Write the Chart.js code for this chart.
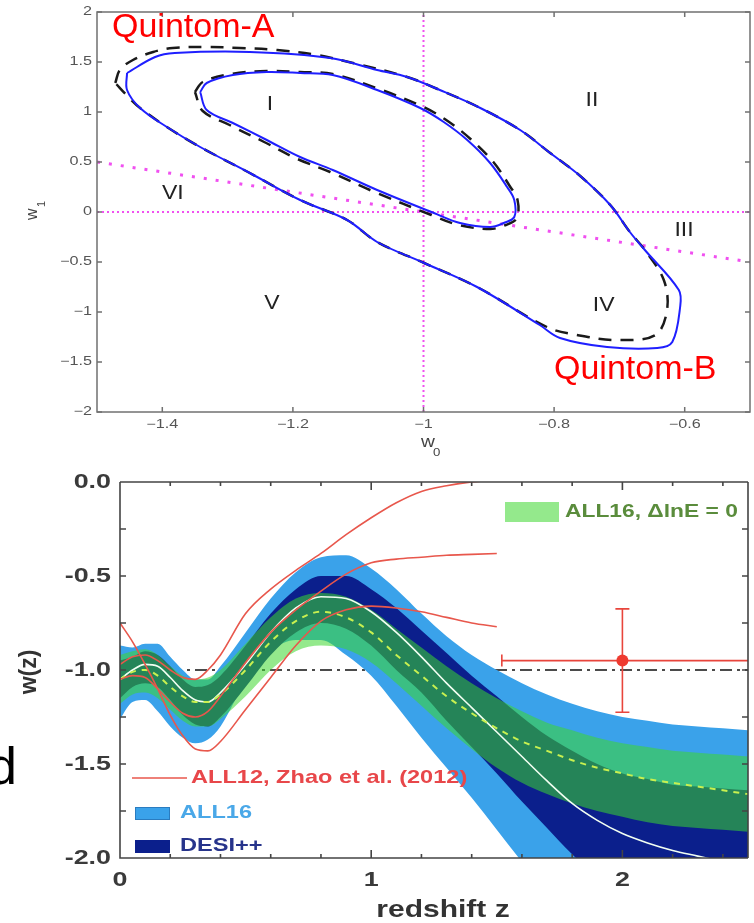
<!DOCTYPE html>
<html>
<head>
<meta charset="utf-8">
<script src="https://cdn.jsdelivr.net/npm/chart.js@4.4.1/dist/chart.umd.min.js"></script>
<style>
  body { margin: 0; background: #fff; }
  #wrap { position: relative; width: 754px; height: 923px; overflow: hidden; }
  canvas { position: absolute; left: 0; }
  #plane { top: 0; }
  #wz { top: 470px; }
</style>
</head>
<body>
<div id="wrap">
  <canvas id="plane" width="754" height="470"></canvas>
  <canvas id="wz" width="754" height="453"></canvas>
</div>
<script>
// ---------- w0 - w1 plane ----------
const w0Ticks = [-1.4, -1.2, -1, -0.8, -0.6];
const w1Ticks = [-2, -1.5, -1, -0.5, 0, 0.5, 1, 1.5, 2];

// 95% and 68% contours (solid) and the comparison contours (dashed)
const outerW0 = [-1.454, -1.411, -1.381, -1.266, -1.143, -1.071, -1.025, -0.975, -0.913, -0.852, -0.806, -0.760, -0.714, -0.684, -0.661, -0.609, -0.607, -0.619, -0.642, -0.719, -0.791, -0.822, -0.918, -0.999, -1.071, -1.117, -1.189, -1.266, -1.342, -1.393, -1.434, -1.454, -1.454];
const outerW1 = [1.39, 1.55, 1.59, 1.60, 1.54, 1.42, 1.35, 1.22, 1.04, 0.82, 0.59, 0.36, 0.07, -0.20, -0.38, -0.78, -0.95, -1.30, -1.36, -1.35, -1.26, -1.13, -0.75, -0.51, -0.30, -0.08, 0.12, 0.39, 0.65, 0.85, 1.04, 1.22, 1.39];
const innerW0 = [-1.342, -1.332, -1.292, -1.240, -1.189, -1.139, -1.071, -1.005, -0.969, -0.933, -0.898, -0.872, -0.861, -0.861, -0.877, -0.898, -0.944, -0.984, -1.071, -1.139, -1.189, -1.240, -1.292, -1.332, -1.342];
const innerW1 = [1.20, 1.29, 1.37, 1.40, 1.39, 1.37, 1.22, 1.04, 0.90, 0.72, 0.49, 0.25, 0.12, -0.05, -0.11, -0.15, -0.11, -0.01, 0.22, 0.42, 0.55, 0.72, 0.89, 1.02, 1.20];
const outerDashW0 = [-1.472, -1.465, -1.445, -1.414, -1.384, -1.332, -1.281, -1.224, -1.163, -1.108, -1.025, -0.975, -0.913, -0.852, -0.806, -0.760, -0.714, -0.684, -0.661, -0.632, -0.627, -0.645, -0.704, -0.765, -0.811, -0.918, -0.999, -1.071, -1.117, -1.189, -1.266, -1.342, -1.393, -1.434, -1.452, -1.472];
const outerDashW1 = [1.29, 1.42, 1.52, 1.60, 1.64, 1.65, 1.64, 1.62, 1.57, 1.49, 1.35, 1.22, 1.04, 0.82, 0.59, 0.36, 0.07, -0.20, -0.38, -0.68, -0.98, -1.23, -1.28, -1.23, -1.15, -0.75, -0.51, -0.30, -0.08, 0.12, 0.39, 0.65, 0.85, 1.04, 1.15, 1.29];
const innerDashW0 = [-1.350, -1.338, -1.295, -1.240, -1.189, -1.139, -1.068, -1.000, -0.963, -0.928, -0.893, -0.868, -0.856, -0.857, -0.874, -0.898, -0.946, -0.988, -1.075, -1.143, -1.193, -1.244, -1.297, -1.338, -1.350];
const innerDashW1 = [1.20, 1.30, 1.38, 1.41, 1.40, 1.38, 1.23, 1.05, 0.91, 0.73, 0.50, 0.26, 0.12, -0.06, -0.13, -0.17, -0.13, -0.03, 0.20, 0.40, 0.53, 0.70, 0.87, 1.01, 1.20];

// dividing lines: w0 = -1, w1 = 0 and w0 + w1 = -1
const divideW0 = [-1.5, -0.5];
const divideW1 = [0.5, -0.5];

// ---------- w(z) reconstruction ----------
const zGrid = [0, 0.05, 0.1, 0.15, 0.2, 0.25, 0.3, 0.35, 0.4, 0.5, 0.6, 0.7, 0.8, 0.9, 1.0, 1.1, 1.2, 1.3, 1.4, 1.5, 1.6, 1.7, 1.8, 1.9, 2.0, 2.1, 2.2, 2.3, 2.4, 2.5];
const all16Upper = [-0.87, -0.88, -0.86, -0.86, -0.93, -1.00, -1.05, -1.05, -0.98, -0.80, -0.62, -0.48, -0.40, -0.39, -0.46, -0.57, -0.70, -0.82, -0.92, -1.00, -1.07, -1.13, -1.18, -1.22, -1.25, -1.27, -1.29, -1.30, -1.31, -1.32];
const all16Lower = [-1.26, -1.17, -1.16, -1.22, -1.30, -1.36, -1.39, -1.37, -1.30, -1.06, -0.90, -0.84, -0.84, -0.92, -1.03, -1.19, -1.36, -1.52, -1.68, -1.85, -2.02, -2.18, -2.32, -2.45, -2.55, -2.62, -2.68, -2.72, -2.75, -2.78];
const desiUpper = [-0.95, -0.93, -0.90, -0.92, -0.98, -1.05, -1.09, -1.08, -1.03, -0.87, -0.70, -0.57, -0.50, -0.50, -0.57, -0.67, -0.79, -0.91, -1.03, -1.14, -1.25, -1.35, -1.43, -1.50, -1.55, -1.58, -1.61, -1.62, -1.63, -1.64];
const desiMean = [-1.05, -1.00, -0.97, -0.98, -1.04, -1.11, -1.16, -1.17, -1.12, -0.97, -0.80, -0.67, -0.61, -0.62, -0.69, -0.80, -0.93, -1.07, -1.20, -1.33, -1.46, -1.59, -1.71, -1.80, -1.87, -1.92, -1.96, -1.99, -2.02, -2.05];
const desiLower = [-1.15, -1.09, -1.07, -1.09, -1.16, -1.24, -1.29, -1.30, -1.25, -1.09, -0.92, -0.80, -0.75, -0.78, -0.87, -1.00, -1.12, -1.27, -1.41, -1.55, -1.70, -1.84, -1.98, -2.10, -2.20, -2.28, -2.34, -2.39, -2.43, -2.46];
const flatUpper = [-0.92, -0.90, -0.89, -0.92, -0.98, -1.03, -1.05, -1.04, -1.00, -0.86, -0.72, -0.62, -0.59, -0.61, -0.68, -0.78, -0.88, -0.98, -1.07, -1.15, -1.22, -1.28, -1.32, -1.36, -1.39, -1.41, -1.43, -1.44, -1.45, -1.46];
const flatMean = [-1.05, -1.01, -1.00, -1.03, -1.09, -1.14, -1.17, -1.17, -1.13, -1.00, -0.85, -0.74, -0.69, -0.72, -0.80, -0.92, -1.03, -1.14, -1.23, -1.31, -1.38, -1.43, -1.48, -1.52, -1.55, -1.58, -1.60, -1.62, -1.64, -1.66];
const flatLower = [-1.18, -1.13, -1.12, -1.15, -1.21, -1.27, -1.30, -1.30, -1.26, -1.14, -1.00, -0.90, -0.87, -0.89, -0.96, -1.07, -1.19, -1.31, -1.42, -1.52, -1.60, -1.66, -1.71, -1.75, -1.78, -1.81, -1.83, -1.84, -1.85, -1.86];

// ALL12 (Zhao et al. 2012), plotted up to z = 1.5
const zhaoZ = zGrid.slice(0, 20);
const zhaoA = [-0.97, -0.93, -0.92, -0.95, -1.00, -1.04, -1.05, -1.00, -0.92, -0.70, -0.57, -0.47, -0.38, -0.28, -0.19, -0.11, -0.05, -0.02, 0.00, 0.01];
const zhaoB = [-1.05, -1.03, -1.04, -1.10, -1.17, -1.23, -1.25, -1.22, -1.14, -0.96, -0.80, -0.68, -0.58, -0.49, -0.43, -0.41, -0.40, -0.39, -0.385, -0.38];
const zhaoC = [-0.75, -0.85, -0.97, -1.10, -1.24, -1.35, -1.42, -1.43, -1.38, -1.21, -1.04, -0.87, -0.74, -0.68, -0.66, -0.67, -0.69, -0.72, -0.75, -0.77];

// high-z bin with error bars
const binZ = [2.0], binW = [-0.95];
const binZErr = [1.52, 2.6];
const binWErr = [-1.225, -0.675];

const lcdmW = -1;
const zTicks = [0, 1, 2];
const wTicks = [0, -0.5, -1, -1.5, -2];

const FONT = '"Liberation Sans", Arial, sans-serif';
const pts = (xs, ys) => xs.map((x, i) => ({ x: x, y: ys[i] }));

// text with horizontal stretch
function stext(ctx, s, x, y, font, color, align, sx) {
  ctx.save();
  ctx.font = font;
  ctx.fillStyle = color;
  ctx.textAlign = align || 'left';
  ctx.textBaseline = 'middle';
  ctx.translate(x, y);
  ctx.scale(sx || 1, 1);
  ctx.fillText(s, 0, 0);
  ctx.restore();
}
const minus = v => (v < 0 ? '\u2212' + Math.abs(v) : String(v));

// ---------- top panel decorations ----------
const planeDeco = {
  id: 'planeDeco',
  afterDraw(chart) {
    const { ctx, chartArea: a, scales: { x, y } } = chart;
    ctx.save();
    ctx.strokeStyle = '#707070';
    ctx.lineWidth = 1.5;
    ctx.strokeRect(a.left, a.top, a.right - a.left, a.bottom - a.top);
    ctx.beginPath();
    w0Ticks.forEach(v => {
      const px = x.getPixelForValue(v);
      ctx.moveTo(px, a.bottom); ctx.lineTo(px, a.bottom - 5);
      ctx.moveTo(px, a.top); ctx.lineTo(px, a.top + 5);
    });
    w1Ticks.forEach(v => {
      const py = y.getPixelForValue(v);
      ctx.moveTo(a.left, py); ctx.lineTo(a.left + 5, py);
      ctx.moveTo(a.right, py); ctx.lineTo(a.right - 5, py);
    });
    ctx.stroke();
    ctx.restore();

    const tf = '12px ' + FONT;
    w0Ticks.forEach(v => stext(ctx, minus(v), x.getPixelForValue(v), a.bottom + 13, tf, '#555', 'center', 1.35));
    w1Ticks.forEach(v => stext(ctx, minus(v), a.left - 5, y.getPixelForValue(v), tf, '#555', 'right', 1.35));

    // axis names
    stext(ctx, 'w', 421, a.bottom + 31, '16px ' + FONT, '#444', 'left', 1.2);
    stext(ctx, '0', 433, a.bottom + 41, '11px ' + FONT, '#444', 'left', 1.2);
    ctx.save();
    ctx.translate(33, 214);
    ctx.rotate(-Math.PI / 2);
    stext(ctx, 'w', -6, 0, '16px ' + FONT, '#444', 'left', 1);
    stext(ctx, '1', 7, 9, '11px ' + FONT, '#444', 'left', 1);
    ctx.restore();

    // region numerals
    const rf = '20px ' + FONT;
    [['I', -1.235, 1.08], ['II', -0.742, 1.12], ['III', -0.601, -0.18],
     ['IV', -0.724, -0.93], ['V', -1.232, -0.91], ['VI', -1.384, 0.19]].forEach(r =>
      stext(ctx, r[0], x.getPixelForValue(r[1]), y.getPixelForValue(r[2]), rf, '#222', 'center', 1.15));

    stext(ctx, 'Quintom-A', 112, 28, '33px ' + FONT, '#ff0000', 'left', 1.03);
    stext(ctx, 'Quintom-B', 554, 370, '33px ' + FONT, '#ff0000', 'left', 1.03);
  }
};

const magenta = '#f050f0';
new Chart(document.getElementById('plane'), {
  type: 'scatter',
  data: {
    datasets: [
      { data: pts(outerW0, outerW1), showLine: true, borderColor: '#1f1fff', borderWidth: 2, pointRadius: 0, tension: 0.35, order: 1 },
      { data: pts(innerW0, innerW1), showLine: true, borderColor: '#1f1fff', borderWidth: 2, pointRadius: 0, tension: 0.35, order: 1 },
      { data: pts(outerDashW0, outerDashW1), showLine: true, borderColor: '#1a1a1a', borderWidth: 2.5, borderDash: [13, 9], pointRadius: 0, tension: 0.35, order: 2 },
      { data: pts(innerDashW0, innerDashW1), showLine: true, borderColor: '#1a1a1a', borderWidth: 2.5, borderDash: [13, 9], pointRadius: 0, tension: 0.35, order: 2 },
      { data: [{ x: -1, y: -2 }, { x: -1, y: 2 }], showLine: true, borderColor: magenta, borderWidth: 2, borderDash: [2, 3], pointRadius: 0, order: 3 },
      { data: [{ x: -1.5, y: 0 }, { x: -0.5, y: 0 }], showLine: true, borderColor: magenta, borderWidth: 2, borderDash: [2, 3], pointRadius: 0, order: 3 },
      { data: pts(divideW0, divideW1), showLine: true, borderColor: magenta, borderWidth: 3, borderDash: [3, 9], pointRadius: 0, order: 3 }
    ]
  },
  options: {
    responsive: false,
    animation: false,
    events: [],
    layout: { padding: { top: 12, right: 4, left: 0, bottom: 0 } },
    plugins: { legend: { display: false }, tooltip: { enabled: false } },
    scales: {
      x: {
        type: 'linear', min: -1.5, max: -0.5,
        grid: { display: false, drawTicks: false }, border: { display: false },
        ticks: { display: false },
        afterFit: s => { s.height = 58; }
      },
      y: {
        type: 'linear', min: -2, max: 2,
        grid: { display: false, drawTicks: false }, border: { display: false },
        ticks: { display: false },
        afterFit: s => { s.width = 97; }
      }
    }
  },
  plugins: [planeDeco]
});

// ---------- bottom panel decorations ----------
const flatFill = 'rgba(60,215,45,0.55)';
const flatSwatch = 'rgb(148,233,140)';
const wzDeco = {
  id: 'wzDeco',
  afterDatasetsDraw(chart) {
    const { ctx, scales: { x, y } } = chart;
    // caps of the high-z error bars
    ctx.save();
    ctx.strokeStyle = '#e8453c';
    ctx.lineWidth = 1.6;
    ctx.beginPath();
    const bx = x.getPixelForValue(binZ[0]);
    binWErr.forEach(w => { const py = y.getPixelForValue(w); ctx.moveTo(bx - 7, py); ctx.lineTo(bx + 7, py); });
    const lx = x.getPixelForValue(binZErr[0]), by = y.getPixelForValue(binW[0]);
    ctx.moveTo(lx, by - 6); ctx.lineTo(lx, by + 6);
    ctx.stroke();
    ctx.restore();
  },
  afterDraw(chart) {
    const { ctx, chartArea: a, scales: { x, y } } = chart;
    ctx.save();
    ctx.strokeStyle = '#444';
    ctx.lineWidth = 1.6;
    ctx.beginPath();
    ctx.moveTo(a.left, a.top); ctx.lineTo(a.right, a.top);
    ctx.moveTo(a.left, a.top); ctx.lineTo(a.left, a.bottom); ctx.lineTo(a.right, a.bottom);
    ctx.moveTo(a.right, a.top); ctx.lineTo(a.right, a.bottom);
    for (let v = 0; v <= 2.5001; v += 0.2) {
      const px = x.getPixelForValue(v);
      ctx.moveTo(px, a.bottom); ctx.lineTo(px, a.bottom - 4);
      ctx.moveTo(px, a.top); ctx.lineTo(px, a.top + 4);
    }
    zTicks.forEach(v => {
      const px = x.getPixelForValue(v);
      ctx.moveTo(px, a.bottom); ctx.lineTo(px, a.bottom - 8);
      ctx.moveTo(px, a.top); ctx.lineTo(px, a.top + 8);
    });
    for (let v = 0; v >= -2.0001; v -= 0.25) {
      const py = y.getPixelForValue(v);
      ctx.moveTo(a.left, py); ctx.lineTo(a.left + 6, py);
      ctx.moveTo(a.right, py); ctx.lineTo(a.right - 6, py);
    }
    ctx.stroke();
    ctx.restore();

    const tf = 'bold 21px ' + FONT;
    wTicks.forEach(v => stext(ctx, v.toFixed(1), a.left - 9, y.getPixelForValue(v), tf, '#3a3a3a', 'right', 1.28));
    zTicks.forEach(v => stext(ctx, String(v), x.getPixelForValue(v), a.bottom + 22, tf, '#3a3a3a', 'center', 1.28));
    stext(ctx, 'redshift z', 443, a.bottom + 52, 'bold 24px ' + FONT, '#333', 'center', 1.25);

    ctx.save();
    ctx.translate(30, 202);
    ctx.rotate(-Math.PI / 2);
    stext(ctx, 'w(z)', 0, 0, 'bold 23px ' + FONT, '#333', 'center', 1);
    ctx.restore();

    stext(ctx, 'd', 17, 300, '52px ' + FONT, '#000', 'right', 1);

    // legend
    const lf = 'bold 19px ' + FONT;
    ctx.fillStyle = flatSwatch;
    ctx.fillRect(505, 32, 54, 20);
    stext(ctx, 'ALL16, \u0394lnE = 0', 565, 42, lf, '#5a8c3c', 'left', 1.2);
    ctx.strokeStyle = '#e8574c'; ctx.lineWidth = 1.6;
    ctx.beginPath(); ctx.moveTo(132, 308); ctx.lineTo(187, 308); ctx.stroke();
    stext(ctx, 'ALL12, Zhao et al. (2012)', 191, 308, lf, '#e8474a', 'left', 1.24);
    ctx.fillStyle = '#3aa2ea'; ctx.fillRect(135, 337, 35, 13);
    ctx.strokeStyle = '#2a7cc0'; ctx.lineWidth = 1; ctx.strokeRect(135.5, 337.5, 34, 12);
    stext(ctx, 'ALL16', 180, 343, lf, '#4aa8e8', 'left', 1.24);
    ctx.fillStyle = '#0b1f8c'; ctx.fillRect(135, 370, 35, 13);
    stext(ctx, 'DESI++', 180, 376, lf, '#27348b', 'left', 1.24);
  }
};

const band = (ys, extra) => Object.assign({ data: pts(zGrid, ys), borderWidth: 0, pointRadius: 0, cubicInterpolationMode: 'monotone', fill: false }, extra);
new Chart(document.getElementById('wz'), {
  type: 'line',
  data: {
    datasets: [
      { data: [{ x: 0, y: lcdmW }, { x: 2.5, y: lcdmW }], borderColor: '#111', borderWidth: 1.6, borderDash: [12, 5, 3, 5], pointRadius: 0, order: 20 },
      band(all16Upper, { fill: { target: 2 }, backgroundColor: '#3aa2ea', order: 19 }),
      band(all16Lower, { order: 19 }),
      band(desiUpper, { fill: { target: 4 }, backgroundColor: '#0b1f8c', order: 18 }),
      band(desiLower, { order: 18 }),
      band(flatUpper, { fill: { target: 6 }, backgroundColor: flatFill, order: 17 }),
      band(flatLower, { order: 17 }),
      band(desiMean, { borderColor: '#f2fff2', borderWidth: 1.6, order: 10 }),
      band(flatMean, { borderColor: '#c8f050', borderWidth: 2, borderDash: [6, 6], order: 9 }),
      { data: pts(zhaoZ, zhaoA), borderColor: '#e8574c', borderWidth: 1.6, pointRadius: 0, cubicInterpolationMode: 'monotone', order: 5 },
      { data: pts(zhaoZ, zhaoB), borderColor: '#e8574c', borderWidth: 1.6, pointRadius: 0, cubicInterpolationMode: 'monotone', order: 5 },
      { data: pts(zhaoZ, zhaoC), borderColor: '#e8574c', borderWidth: 1.6, pointRadius: 0, cubicInterpolationMode: 'monotone', order: 5 },
      { data: pts(binZErr, [binW[0], binW[0]]), borderColor: '#e8453c', borderWidth: 1.6, pointRadius: 0, order: 2 },
      { data: pts([binZ[0], binZ[0]], binWErr), borderColor: '#e8453c', borderWidth: 1.6, pointRadius: 0, order: 2 },
      { data: pts(binZ, binW), showLine: false, pointRadius: 6, pointBackgroundColor: '#ee3a30', pointBorderWidth: 0, order: 1 }
    ]
  },
  options: {
    responsive: false,
    animation: false,
    events: [],
    layout: { padding: { top: 12, right: 0, left: 0, bottom: 0 } },
    plugins: { legend: { display: false }, tooltip: { enabled: false } },
    scales: {
      x: {
        type: 'linear', min: 0, max: 2.5,
        grid: { display: false, drawTicks: false }, border: { display: false },
        ticks: { display: false },
        afterFit: s => { s.height = 65; }
      },
      y: {
        type: 'linear', min: -2, max: 0,
        grid: { display: false, drawTicks: false }, border: { display: false },
        ticks: { display: false },
        afterFit: s => { s.width = 120; }
      }
    }
  },
  plugins: [wzDeco]
});
</script>
</body>
</html>
